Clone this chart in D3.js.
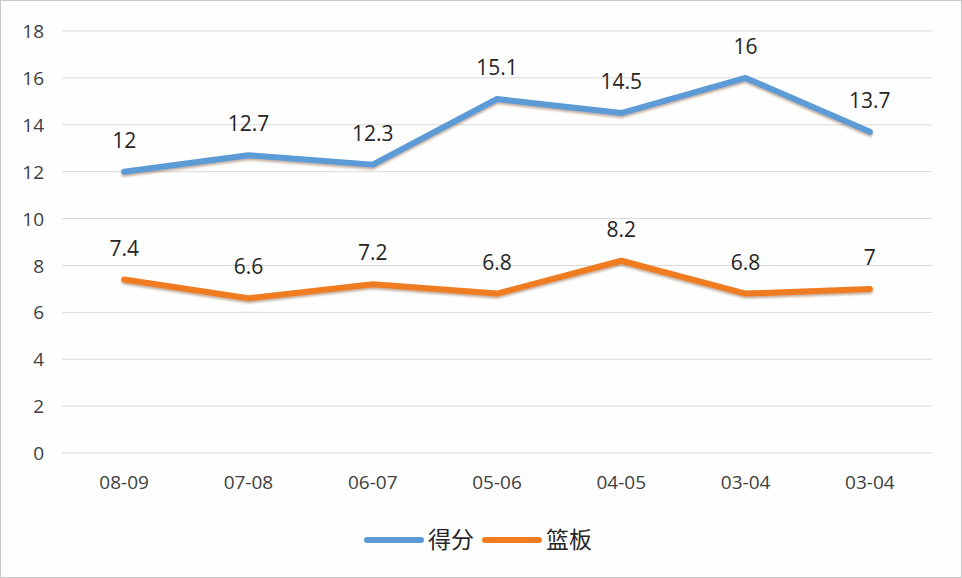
<!DOCTYPE html>
<html><head><meta charset="utf-8">
<script src="https://cdn.jsdelivr.net/npm/d3@7/dist/d3.min.js"></script>
<style>
html,body{margin:0;padding:0;background:#fff;}
svg{display:block;}
text{font-family:"Open Sans","Noto Sans","Noto Sans CJK SC",sans-serif;}
</style></head>
<body><svg id="c" width="962" height="578"></svg>
<script>
const categories = ["08-09","07-08","06-07","05-06","04-05","03-04","03-04"];
const scoreValues = [12,12.7,12.3,15.1,14.5,16,13.7];
const reboundValues = [7.4,6.6,7.2,6.8,8.2,6.8,7];
const yTicks = [0,2,4,6,8,10,12,14,16,18];
const seriesNames = ["得分","篮板"];
const seriesColors = ["#5B9BD5","#F07C22"];

(function(){
const svg = d3.select("#c");
svg.append("rect").attr("x",0.5).attr("y",0.5).attr("width",961).attr("height",577)
  .attr("fill","#fefefe").attr("stroke","#c9c9c9");

const defs = svg.append("defs");
const f = defs.append("filter").attr("id","sh").attr("x","-10%").attr("y","-20%").attr("width","120%").attr("height","160%");
f.append("feDropShadow").attr("dx",0).attr("dy",2).attr("stdDeviation",1.2)
  .attr("flood-color","#7a4a20").attr("flood-opacity",0.45);

const pl = 62, pr = 932, pt = 31, pb = 453;
const x = d3.scaleBand().domain(d3.range(categories.length)).range([pl,pr]);
const y = d3.scaleLinear().domain([0,18]).range([pb,pt]);

const g = svg.append("g");
g.selectAll("line.grid").data(yTicks).enter().append("line")
  .attr("x1",pl).attr("x2",pr).attr("y1",d=>y(d)).attr("y2",d=>y(d))
  .attr("stroke","#d9d9d9").attr("stroke-width",1);

const yAxis = d3.axisLeft(y).tickValues(yTicks).tickSize(0).tickPadding(0);
const ya = svg.append("g").attr("transform",`translate(44,0)`).call(yAxis);
ya.select(".domain").remove();
ya.selectAll("text").attr("font-size",19).attr("fill","#404040").attr("dy","0.35em")
  .attr("font-family","'Open Sans',sans-serif");

const xAxis = d3.axisBottom(x).tickFormat(i=>categories[i]).tickSize(0).tickPadding(0);
const xa = svg.append("g").attr("transform",`translate(0,${pb+29})`).call(xAxis);
xa.select(".domain").remove();
xa.selectAll("text").attr("font-size",19).attr("fill","#404040").attr("dy","0.35em")
  .attr("font-family","'Open Sans',sans-serif");

const cx = i => x(i)+x.bandwidth()/2;
const line = d3.line().x((d,i)=>cx(i)).y(d=>y(d));
[scoreValues,reboundValues].forEach((vals,k)=>{
  svg.append("path").datum(vals).attr("d",line).attr("fill","none")
    .attr("stroke",seriesColors[k]).attr("stroke-width",6)
    .attr("stroke-linejoin","round").attr("stroke-linecap","round")
    .attr("filter","url(#sh)");
  svg.selectAll(null).data(vals).enter().append("text")
    .attr("x",(d,i)=>cx(i)).attr("y",d=>y(d)-24)
    .attr("text-anchor","middle").attr("font-size",21).attr("fill","#262626")
    .text(d=>d);
});

const leg = svg.append("g");
const items = [{x:367,tx:428},{x:485,tx:546}];
items.forEach((it,k)=>{
  leg.append("line").attr("x1",it.x).attr("x2",it.x+54).attr("y1",540).attr("y2",540)
    .attr("stroke",seriesColors[k]).attr("stroke-width",6).attr("stroke-linecap","round");
  leg.append("text").attr("x",it.tx).attr("y",548).attr("font-size",23).attr("fill","#262626")
    .attr("font-family","'Noto Sans CJK SC',sans-serif").text(seriesNames[k]);
});
})();
</script></body></html>
